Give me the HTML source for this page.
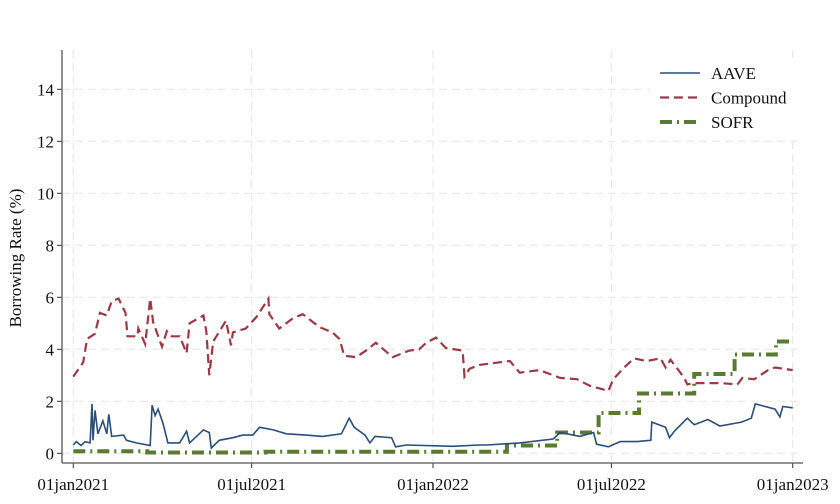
<!DOCTYPE html>
<html><head><meta charset="utf-8"><style>
body{margin:0;background:#fff}
svg{display:block;font-family:"Liberation Serif",serif}
</style></head><body>
<svg id="chart" width="840" height="504">
<g id="grid"></g>
<g id="axes"></g>
<g id="series"></g>
<g id="legend"></g>
</svg>
<script>
// data (day offsets from 01jan2021)
const xTickLabels=["01jan2021","01jul2021","01jan2022","01jul2022","01jan2023"];
const xTickDays=[0,181,365,546,730];
const yTicks=[0,2,4,6,8,10,12,14];
const aaveDays=[0,3,8,12,17,19,20,22,25,30,34,36,39,51,54,64,78,80,83,86,91,96,108,115,118,132,138,140,148,162,172,182,189,203,216,236,253,272,280,285,296,301,306,323,327,338,385,412,420,453,487,494,514,528,531,543,555,572,586,587,601,605,610,623,630,644,656,678,688,692,712,717,720,730];
const aaveVals=[0.32,0.45,0.3,0.45,0.4,1.9,0.5,1.65,0.75,1.25,0.75,1.5,0.65,0.7,0.5,0.4,0.3,1.85,1.45,1.7,1.15,0.4,0.4,0.85,0.4,0.9,0.8,0.2,0.5,0.6,0.7,0.7,1.0,0.9,0.75,0.7,0.65,0.75,1.35,1.0,0.7,0.4,0.65,0.6,0.25,0.32,0.27,0.32,0.32,0.4,0.55,0.8,0.65,0.8,0.35,0.25,0.45,0.45,0.5,1.2,1.0,0.6,0.85,1.35,1.1,1.3,1.05,1.2,1.35,1.9,1.7,1.4,1.8,1.75];
const compDays=[0,10,14,22,27,34,39,46,53,55,65,66,73,78,81,90,95,100,108,115,118,132,135,138,142,155,160,162,175,186,198,199,209,223,233,243,250,263,270,275,287,297,307,324,341,351,358,368,378,395,397,402,412,443,453,473,494,511,524,543,548,559,569,582,596,601,606,620,623,630,657,674,679,691,705,712,730];
const compVals=[2.95,3.5,4.4,4.6,5.4,5.3,5.85,5.95,5.4,4.5,4.5,4.8,4.2,5.95,5.05,4.1,4.7,4.5,4.5,3.85,5.0,5.3,4.7,3.0,4.3,5.1,4.15,4.65,4.8,5.25,5.95,5.35,4.8,5.2,5.35,5.05,4.85,4.65,4.4,3.75,3.7,3.95,4.25,3.7,3.95,4.0,4.25,4.45,4.05,3.95,2.95,3.25,3.4,3.55,3.1,3.2,2.9,2.85,2.6,2.4,2.85,3.3,3.65,3.55,3.65,3.3,3.6,2.9,2.65,2.7,2.7,2.65,2.9,2.85,3.2,3.3,3.2];
const sofrDays=[0,75,195,440,491,533,574,630,671,713,730];
const sofrVals=[0.08,0.03,0.06,0.3,0.8,1.55,2.3,3.05,3.8,4.3,4.3];

const NS="http://www.w3.org/2000/svg";
const X0=73.3,X1=792.7,Y0=453.3,PPU=26;
const xs=d=>X0+(X1-X0)*d/730;
const ys=v=>Y0-v*PPU;
function mk(tag,attrs,parent){const e=document.createElementNS(NS,tag);for(const k in attrs)e.setAttribute(k,attrs[k]);parent.appendChild(e);return e;}
const grid=document.getElementById('grid'),axes=document.getElementById('axes'),ser=document.getElementById('series'),leg=document.getElementById('legend');

yTicks.forEach(t=>{
  const l=mk('line',{x1:62,x2:803,y1:ys(t),y2:ys(t),stroke:'#e8e8e8','stroke-width':1.2,'stroke-dasharray':'8 5'},grid);
  
  
  const tk=mk('line',{x1:57,x2:62,y1:ys(t),y2:ys(t),stroke:'#333'},axes);
  
  
  const tx=mk('text',{x:54,y:ys(t)+6,'text-anchor':'end','font-size':17,fill:'#111'},axes);
  tx.textContent=t;
  
  
});
xTickDays.forEach((d,i)=>{
  const l=mk('line',{x1:xs(d),x2:xs(d),y1:50,y2:463,stroke:'#e8e8e8','stroke-width':1.2,'stroke-dasharray':'8 5'},grid);
  
  
  const tk=mk('line',{x1:xs(d),x2:xs(d),y1:463,y2:468,stroke:'#333'},axes);
  
  
  const tx=mk('text',{x:xs(d),y:490,'text-anchor':'middle','font-size':17,fill:'#111'},axes);
  tx.textContent=xTickLabels[i];
  
  
});
const ax1=mk('line',{x1:62,x2:62,y1:50,y2:463,stroke:'#555','stroke-width':1.3},axes);


const ax2=mk('line',{x1:62,x2:803,y1:463,y2:463,stroke:'#555','stroke-width':1.3},axes);


const yt=mk('text',{x:0,y:0,transform:'translate(21,258) rotate(-90)','text-anchor':'middle','font-size':17,fill:'#111'},axes);
yt.textContent='Borrowing Rate (%)';



function pts(days,vals){return days.map((d,i)=>xs(d).toFixed(1)+','+ys(vals[i]).toFixed(1)).join(' ');}
function stepPts(days,vals){let p=[];days.forEach((d,i)=>{if(i>0)p.push(xs(d).toFixed(1)+','+ys(vals[i-1]).toFixed(1));p.push(xs(d).toFixed(1)+','+ys(vals[i]).toFixed(1));});return p.join(' ');}

const s3=mk('polyline',{points:stepPts(sofrDays,sofrVals),fill:'none',stroke:'#5a7a32','stroke-width':4,'stroke-dasharray':'12 5 2 5'},ser);


const s2=mk('polyline',{points:pts(compDays,compVals),fill:'none',stroke:'#9b3a46','stroke-width':2.2,'stroke-dasharray':'9 5'},ser);


const s1=mk('polyline',{points:pts(aaveDays,aaveVals),fill:'none',stroke:'#2a4e78','stroke-width':1.6},ser);



const bg=mk('rect',{x:650,y:58,width:150,height:78,fill:'#fff'},leg);


const legItems=[['AAVE','#2a4e78',1.6,''],['Compound','#9b3a46',2.2,'9 5'],['SOFR','#5a7a32',4,'12 5 2 5']];
legItems.forEach((it,i)=>{
  const y=73+i*24.5;
  const g=mk('g',{},leg);
  
  
  const a={x1:660,x2:700,y1:y,y2:y,stroke:it[1],'stroke-width':it[2]};
  if(it[3])a['stroke-dasharray']=it[3];
  mk('line',a,g);
  const t=mk('text',{x:711,y:y+6,'font-size':17,fill:'#111'},g);
  t.textContent=it[0];
});
</script>
</body></html>
